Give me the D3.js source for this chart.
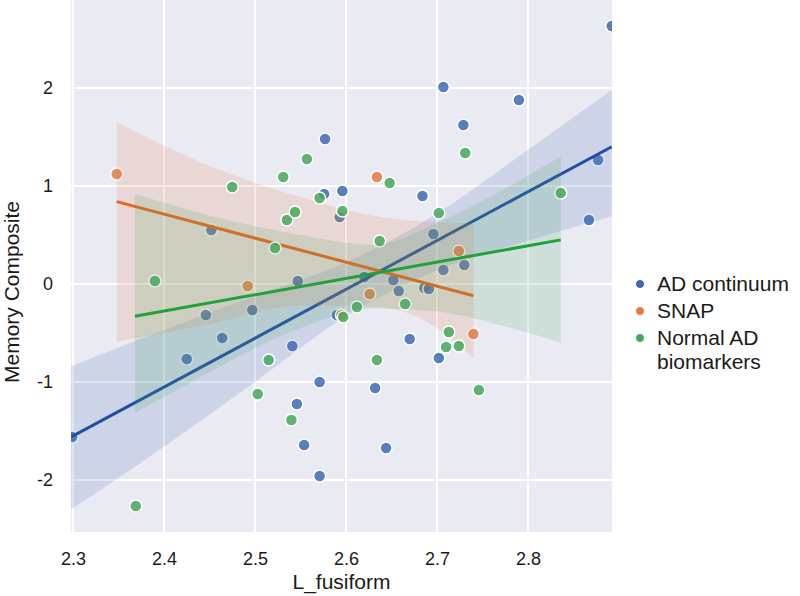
<!DOCTYPE html>
<html>
<head>
<meta charset="utf-8">
<script src="https://cdn.jsdelivr.net/npm/d3@7"></script>
<style>
body { margin: 0; background: #fff; }
text { font-family: "Liberation Sans", Arial, sans-serif; fill: #1a1a1a; }
</style>
</head>
<body>
<div id="chart"></div>
<script>
'use strict';

// 凡例
const GROUP_NAMES = ['AD continuum', 'SNAP', 'Normal AD biomarkers'];

// AD continuum
const AD_X = [2.299, 2.425, 2.446, 2.452, 2.464, 2.497, 2.541, 2.546, 2.547, 2.554, 2.571, 2.571,
    2.576, 2.577, 2.590, 2.593, 2.596, 2.620, 2.632, 2.644, 2.652, 2.658, 2.670, 2.684,
    2.686, 2.691, 2.696, 2.702, 2.707, 2.707, 2.729, 2.730, 2.790, 2.867, 2.877, 2.892];
const AD_Y = [-1.561, -0.765, -0.316, 0.551, -0.551, -0.265, -0.633, -1.224, 0.031, -1.643, -1.000, -1.959,
    0.918, 1.480, -0.316, 0.684, 0.949, 0.071, -1.061, -1.673, 0.041, -0.071, -0.561, 0.898,
    -0.041, -0.051, 0.510, -0.755, 2.010, 0.143, 1.622, 0.194, 1.878, 0.653, 1.265, 2.633];
const AD_FIT_X = [2.298, 2.892];
const AD_FIT_Y = [-1.56, 1.40];
const AD_BAND_X = [2.298, 2.40, 2.50, 2.60, 2.70, 2.80, 2.892];
const AD_BAND_LO = [-2.30, -1.66, -1.00, -0.33, 0.14, 0.44, 0.69];
const AD_BAND_HI = [-0.84, -0.47, -0.12, 0.22, 0.72, 1.37, 1.98];

// SNAP
const SNAP_X = [2.348, 2.492, 2.595, 2.626, 2.634, 2.724, 2.740];
const SNAP_Y = [1.122, -0.020, -0.316, -0.102, 1.092, 0.337, -0.510];
const SNAP_FIT_X = [2.348, 2.740];
const SNAP_FIT_Y = [0.84, -0.12];
const SNAP_BAND_X = [2.348, 2.454, 2.549, 2.64, 2.70, 2.740];
const SNAP_BAND_LO = [-0.59, -0.40, -0.22, -0.24, -0.45, -0.76];
const SNAP_BAND_HI = [1.65, 1.19, 0.89, 0.68, 0.63, 0.62];

// Normal AD biomarkers
const NORM_X = [2.369, 2.390, 2.475, 2.503, 2.515, 2.522, 2.531, 2.535, 2.540, 2.544, 2.557, 2.571, 2.597,
    2.596, 2.612, 2.634, 2.637, 2.648, 2.665, 2.702, 2.710, 2.713, 2.724, 2.731, 2.746, 2.836];
const NORM_Y = [-2.265, 0.031, 0.990, -1.122, -0.776, 0.367, 1.092, 0.653, -1.388, 0.735, 1.276, 0.878, -0.337,
    0.745, -0.235, -0.776, 0.439, 1.031, -0.204, 0.724, -0.643, -0.490, -0.633, 1.337, -1.082, 0.929];
const NORM_FIT_X = [2.368, 2.836];
const NORM_FIT_Y = [-0.33, 0.45];
const NORM_BAND_X = [2.368, 2.45, 2.55, 2.63, 2.70, 2.77, 2.836];
const NORM_BAND_LO = [-1.32, -0.90, -0.45, -0.25, -0.28, -0.42, -0.60];
const NORM_BAND_HI = [0.92, 0.70, 0.50, 0.40, 0.62, 0.95, 1.30];

// 目盛り
const X_TICKS = [2.3, 2.4, 2.5, 2.6, 2.7, 2.8];
const Y_TICKS = [-2, -1, 0, 1, 2];

// SVG全体
const SVG_WIDTH = 800;
const SVG_HEIGHT = 596;
const PLOT_LEFT = 71;
const PLOT_RIGHT = 612;
const PLOT_TOP = 0;
const PLOT_BOTTOM = 532;

const POINT_COLORS = ['#3f6bb5', '#e07b45', '#47a85a'];
const LINE_COLORS = ['#1f4fa5', '#ea6520', '#22a03c'];

const groups = [
    {x: AD_X, y: AD_Y, fx: AD_FIT_X, fy: AD_FIT_Y, bx: AD_BAND_X, lo: AD_BAND_LO, hi: AD_BAND_HI},
    {x: SNAP_X, y: SNAP_Y, fx: SNAP_FIT_X, fy: SNAP_FIT_Y, bx: SNAP_BAND_X, lo: SNAP_BAND_LO, hi: SNAP_BAND_HI},
    {x: NORM_X, y: NORM_Y, fx: NORM_FIT_X, fy: NORM_FIT_Y, bx: NORM_BAND_X, lo: NORM_BAND_LO, hi: NORM_BAND_HI},
];

const svg = d3.select('#chart')
    .append('svg')
    .attr('width', SVG_WIDTH)
    .attr('height', SVG_HEIGHT)
;

const x = d3.scaleLinear()
    .domain([2.2978, 2.8923])
    .range([PLOT_LEFT, PLOT_RIGHT])
;
const y = d3.scaleLinear()
    .domain([-2.531, 2.898])
    .range([PLOT_BOTTOM, PLOT_TOP])
;

// 背景
svg.append('rect')
    .attr('x', PLOT_LEFT)
    .attr('y', PLOT_TOP)
    .attr('width', PLOT_RIGHT - PLOT_LEFT)
    .attr('height', PLOT_BOTTOM - PLOT_TOP)
    .attr('fill', '#eaeaf2')
;

svg.append('clipPath')
    .attr('id', 'plot_clip')
    .append('rect')
    .attr('x', PLOT_LEFT)
    .attr('y', PLOT_TOP)
    .attr('width', PLOT_RIGHT - PLOT_LEFT)
    .attr('height', PLOT_BOTTOM - PLOT_TOP)
;

// グリッド
const grid_g = svg.append('g')
    .attr('stroke', '#ffffff')
    .attr('stroke-width', 2)
;
grid_g.selectAll('line.gx')
    .data(X_TICKS)
    .join('line')
    .attr('class', 'gx')
    .attr('x1', d => x(d))
    .attr('x2', d => x(d))
    .attr('y1', PLOT_TOP)
    .attr('y2', PLOT_BOTTOM)
;
grid_g.selectAll('line.gy')
    .data(Y_TICKS)
    .join('line')
    .attr('class', 'gy')
    .attr('x1', PLOT_LEFT)
    .attr('x2', PLOT_RIGHT)
    .attr('y1', d => y(d))
    .attr('y2', d => y(d))
;

// データ
const plot_g = svg.append('g')
    .attr('clip-path', 'url(#plot_clip)')
;
const area = d3.area()
    .x(d => x(d[0]))
    .y0(d => y(d[1]))
    .y1(d => y(d[2]))
    .curve(d3.curveMonotoneX)
;
const line = d3.line()
    .x(d => x(d[0]))
    .y(d => y(d[1]))
;

groups.forEach((g, i) => {
    plot_g.append('g')
        .selectAll('circle')
        .data(d3.zip(g.x, g.y))
        .join('circle')
        .attr('cx', d => x(d[0]))
        .attr('cy', d => y(d[1]))
        .attr('r', 6)
        .attr('fill', POINT_COLORS[i])
        .attr('fill-opacity', 0.85)
        .attr('stroke', '#ffffff')
        .attr('stroke-width', 1.5)
    ;
    plot_g.append('path')
        .datum(d3.zip(g.bx, g.lo, g.hi))
        .attr('d', area)
        .attr('fill', POINT_COLORS[i])
        .attr('fill-opacity', 0.17)
    ;
    plot_g.append('path')
        .datum(d3.zip(g.fx, g.fy))
        .attr('d', line)
        .attr('fill', 'none')
        .attr('stroke', LINE_COLORS[i])
        .attr('stroke-width', 3)
    ;
});

// 軸
const x_axis = svg.append('g')
    .attr('transform', `translate(0,${PLOT_BOTTOM})`)
    .call(d3.axisBottom(x).tickValues(X_TICKS).tickSize(0).tickPadding(20).tickFormat(d3.format('.1f')))
;
x_axis.select('.domain').remove();
x_axis.selectAll('text')
    .attr('font-size', 18)
    .attr('fill', '#1a1a1a')
;

// マイナスはハイフンで
const y_axis = svg.append('g')
    .attr('transform', `translate(${PLOT_LEFT},0)`)
    .call(d3.axisLeft(y).tickValues(Y_TICKS).tickSize(0).tickPadding(18).tickFormat(d => String(d)))
;
y_axis.select('.domain').remove();
y_axis.selectAll('text')
    .attr('font-size', 18)
    .attr('fill', '#1a1a1a')
;

svg.append('text')
    .text('L_fusiform')
    .attr('x', (PLOT_LEFT + PLOT_RIGHT) / 2)
    .attr('y', 589)
    .attr('text-anchor', 'middle')
    .attr('font-size', 21)
;
svg.append('text')
    .text('Memory Composite')
    .attr('transform', 'translate(19,292) rotate(-90)')
    .attr('text-anchor', 'middle')
    .attr('font-size', 21)
;

// 凡例
const LEGEND_ROWS = [284, 311, 338];
const legend_g = svg.append('g');
GROUP_NAMES.forEach((name, i) => {
    legend_g.append('circle')
        .attr('cx', 640)
        .attr('cy', LEGEND_ROWS[i])
        .attr('r', 4.5)
        .attr('fill', POINT_COLORS[i])
        .attr('stroke', '#ffffff')
        .attr('stroke-width', 1)
    ;
    const t = legend_g.append('text')
        .attr('x', 657)
        .attr('y', LEGEND_ROWS[i] + 7)
        .attr('font-size', 21)
    ;
    // 長いラベルは2行に
    const words = name === 'Normal AD biomarkers' ? ['Normal AD', 'biomarkers'] : [name];
    words.forEach((w, j) => {
        t.append('tspan')
            .attr('x', 657)
            .attr('dy', j === 0 ? 0 : 24)
            .text(w)
        ;
    });
});
</script>
</body>
</html>
